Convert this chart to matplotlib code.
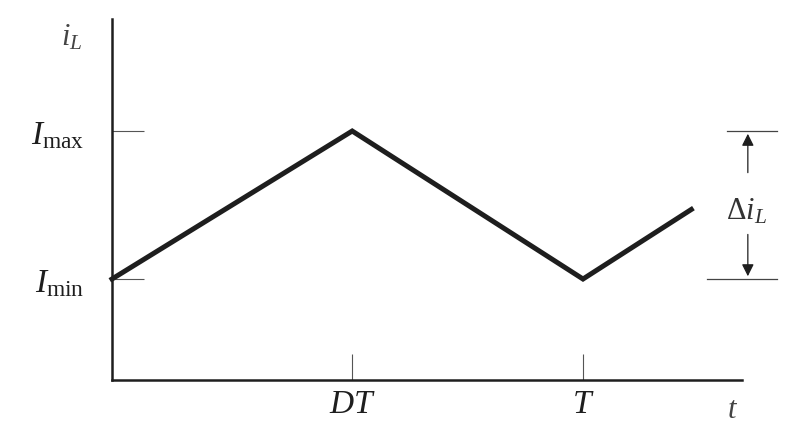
import matplotlib
matplotlib.use("Agg")
import matplotlib.pyplot as plt

# waveform corners (t in units of T, current with Imin=1, Imax=2)
t_pts = [0.0, 0.51, 1.0, 1.23]
i_pts = [1.0, 2.0, 1.0, 1.47]
i_min, i_max = 1.0, 2.0
x_ticks = [0.51, 1.0]
x_labels = [r"$DT$", r"$T$"]
y_ticks = [i_min, i_max]
y_labels = [r"$I_{\rm min}$", r"$I_{\rm max}$"]

plt.rcParams["mathtext.fontset"] = "custom"
plt.rcParams["mathtext.rm"] = "Liberation Serif"
plt.rcParams["mathtext.it"] = "Liberation Serif:italic"
plt.rcParams["font.family"] = "Liberation Serif"

ink = "#1e1e1e"
fig = plt.figure(figsize=(7.86, 4.39), dpi=100)
ax = fig.add_axes([112 / 786, 1 - 381 / 439, 630 / 786, 361 / 439])
ax.set_xlim(0, 1.3376)
ax.set_ylim(0.3176, 2.757)

ax.plot(t_pts, i_pts, color=ink, lw=3.6, solid_joinstyle="miter", clip_on=False)

for s in ["top", "right"]:
    ax.spines[s].set_visible(False)
for s in ["left", "bottom"]:
    ax.spines[s].set_linewidth(1.8)
    ax.spines[s].set_color(ink)

ax.set_xticks(x_ticks, x_labels)
ax.set_yticks(y_ticks, y_labels)
ax.tick_params(axis="x", direction="in", length=19, width=0.8, colors="#555555",
               labelcolor=ink, labelsize=24, pad=6)
ax.tick_params(axis="y", direction="in", length=23, width=0.8, colors="#555555",
               labelcolor=ink, labelsize=24, pad=20)

ax.text(-0.085, 2.635, r"$i_L$", fontsize=22, color="#444444", ha="center", va="center")
ax.text(1.318, 0.12, r"$t$", fontsize=22, color="#444444", ha="center", va="center",
        clip_on=False)

# delta i_L dimension marker
ax.plot([1.306, 1.412], [i_max, i_max], color="#444444", lw=0.9, clip_on=False)
ax.plot([1.263, 1.412], [i_min, i_min], color="#444444", lw=0.9, clip_on=False)
ax.text(1.348, 1.46, r"$\Delta i_L$", fontsize=22, color="#333333", ha="center", va="center")
ax.annotate("", xy=(1.350, i_max), xytext=(1.350, 1.70), annotation_clip=False,
            arrowprops=dict(arrowstyle="-|>", color=ink, lw=0.9, mutation_scale=18))
ax.annotate("", xy=(1.350, i_min), xytext=(1.350, 1.32), annotation_clip=False,
            arrowprops=dict(arrowstyle="-|>", color=ink, lw=0.9, mutation_scale=18))

fig.savefig("out.png", dpi=100)
